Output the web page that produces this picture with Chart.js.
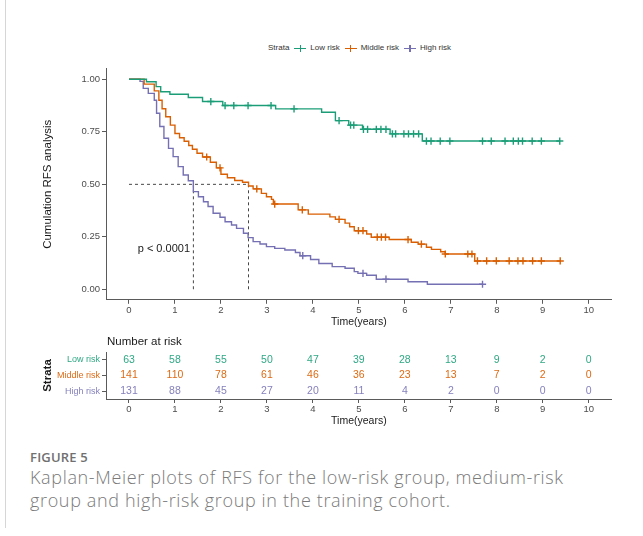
<!DOCTYPE html>
<html>
<head>
<meta charset="utf-8">
<script src="https://cdn.jsdelivr.net/npm/chart.js@4.4.0/dist/chart.umd.min.js"></script>
<style>
  body { margin:0; background:#fff; width:643px; height:536px; position:relative; overflow:hidden;
         font-family:"Liberation Sans", Arial, sans-serif; }
  #marco { position:absolute; left:5px; top:0; width:1px; height:528px; background:#d6d6d6; }
  #grafica_km { position:absolute; left:0; top:0; }
  #grafica_riesgo { position:absolute; left:0; top:330px; }
  #leyenda { position:absolute; left:268px; top:43px; font-size:8px; color:#333; white-space:nowrap; line-height:10px; }
  #leyenda span { vertical-align:middle; }
  .clave { display:inline-block; position:relative; width:12px; height:9px; margin:0 4px 0 5px; }
  .clave::before { content:''; position:absolute; left:0; right:0; top:4px; height:1.3px; background:currentColor; }
  .clave::after { content:''; position:absolute; left:5.5px; top:1px; width:1.3px; height:7px; background:currentColor; }
  #fig_num { position:absolute; left:30px; top:448px; font:600 13px "Open Sans", sans-serif; color:#707070; letter-spacing:0.2px; }
  #fig_texto { position:absolute; left:30px; top:466px; font:300 18px/23px "Open Sans", sans-serif; color:#7a7a7a;
               letter-spacing:0.65px; white-space:nowrap; }
</style>
</head>
<body>
<div id="marco"></div>
<div id="leyenda">
  <span>Strata</span><span class="clave" style="color:#1B9E77"></span><span>Low risk</span><span class="clave" style="color:#D95F02"></span><span>Middle risk</span><span class="clave" style="color:#7570B3"></span><span>High risk</span>
</div>
<canvas id="grafica_km" width="643" height="330"></canvas>
<canvas id="grafica_riesgo" width="643" height="100"></canvas>
<div id="fig_num">FIGURE 5</div>
<div id="fig_texto">Kaplan-Meier plots of RFS for the low-risk group, medium-risk<br>group and high-risk group in the training cohort.</div>

<script>
/*-----Datos-----*/

const grupos = ['Low risk', 'Middle risk', 'High risk'];
const colores = ['#1B9E77', '#D95F02', '#7570B3'];
const colores_tabla = ['#2fa883', '#dd6a14', '#8581bd'];

// tiempos (años) y supervivencia tras cada escalón
const bajo_t = [0, 0.38, 0.59, 0.69, 0.89, 1.29, 1.6, 2.04, 3.19, 4.19, 4.49, 4.78, 5.08, 5.68, 6.38, 9.37];
const bajo_s = [1, 0.988, 0.965, 0.941, 0.929, 0.913, 0.894, 0.875, 0.859, 0.843, 0.803, 0.782, 0.762, 0.740, 0.706, 0.706];
const bajo_cens = [1.78, 2.09, 2.28, 2.59, 3.09, 3.59, 4.57, 4.82, 4.89, 5.1, 5.19, 5.38, 5.48, 5.59, 5.73, 5.8,
                   5.98, 6.08, 6.19, 6.3, 6.47, 6.57, 6.77, 6.98, 7.69, 7.88, 8.18, 8.36, 8.47, 8.56, 8.77, 8.97, 9.37];

const medio_t = [0, 0.33, 0.55, 0.65, 0.72, 0.8, 0.9, 1.0, 1.1, 1.2, 1.3, 1.38, 1.48, 1.6, 1.77, 1.9, 2.0, 2.14, 2.3,
                 2.47, 2.6, 2.7, 2.88, 2.99, 3.1, 3.14, 3.68, 3.9, 4.37, 4.49, 4.7, 4.8, 4.9, 5.17, 5.27, 5.66,
                 6.14, 6.29, 6.47, 6.58, 6.78, 6.88, 7.52, 9.38];
const medio_s = [1, 0.977, 0.945, 0.9, 0.86, 0.822, 0.782, 0.742, 0.722, 0.705, 0.685, 0.667, 0.648, 0.63, 0.605,
                 0.578, 0.548, 0.531, 0.518, 0.51, 0.492, 0.478, 0.457, 0.441, 0.428, 0.406, 0.378, 0.358, 0.345,
                 0.333, 0.315, 0.298, 0.279, 0.263, 0.248, 0.237, 0.224, 0.215, 0.2, 0.19, 0.179, 0.168, 0.135, 0.135];
const medio_cens = [1.69, 1.98, 2.78, 3.17, 3.77, 4.57, 4.99, 5.09, 5.4, 5.49, 5.58, 6.07, 6.36, 6.88, 7.37, 7.46,
                    7.58, 7.78, 7.99, 8.27, 8.46, 8.57, 8.78, 8.97, 9.38];

const alto_t = [0, 0.24, 0.31, 0.42, 0.55, 0.6, 0.67, 0.76, 0.86, 0.96, 1.07, 1.18, 1.29, 1.4, 1.51, 1.62, 1.72,
                1.83, 1.98, 2.09, 2.23, 2.34, 2.49, 2.59, 2.7, 2.85, 2.99, 3.17, 3.39, 3.62, 3.72, 3.95, 4.13,
                4.42, 4.7, 4.9, 4.98, 5.17, 5.38, 6.07, 6.49, 7.69];
const alto_s = [1, 0.99, 0.957, 0.933, 0.9, 0.838, 0.775, 0.719, 0.671, 0.632, 0.584, 0.544, 0.517, 0.465, 0.441,
                0.417, 0.394, 0.362, 0.343, 0.322, 0.306, 0.29, 0.267, 0.246, 0.227, 0.216, 0.203, 0.195, 0.187,
                0.175, 0.16, 0.142, 0.123, 0.108, 0.1, 0.084, 0.076, 0.067, 0.048, 0.036, 0.024, 0.024];
const alto_cens = [3.78, 5.09, 5.59, 7.69];

// medianas (años)
const mediana_alto = 1.4;
const mediana_medio = 2.6;

// tabla de número en riesgo
const anios = [0, 1, 2, 3, 4, 5, 6, 7, 8, 9, 10];
const riesgo_bajo = [63, 58, 55, 50, 47, 39, 28, 13, 9, 2, 0];
const riesgo_medio = [141, 110, 78, 61, 46, 36, 23, 13, 7, 2, 0];
const riesgo_alto = [131, 88, 45, 27, 20, 11, 4, 2, 0, 0, 0];
const ticks_y = [0, 0.25, 0.5, 0.75, 1];

/*-----Funciones-----*/

function puntos(t, s) {
  return t.map((v, i) => ({x: v, y: s[i]}));
}

function supervivencia(t, s, x) {
  let v = s[0];
  for (let i = 0; i < t.length; i++) {
    if (t[i] <= x) v = s[i];
  }
  return v;
}

function cruces(cens, t, s) {
  return cens.map(c => ({x: c, y: supervivencia(t, s, c)}));
}

Chart.defaults.font.family = '"Liberation Sans", Arial, sans-serif';
Chart.defaults.color = '#4d4d4d';

const ejeColor = '#5a5a5a';
const rayas = {borderColor: '#333', borderWidth: 0.9, borderDash: [3, 3], pointRadius: 0, fill: false};

/*-----Gráfica Kaplan-Meier-----*/

const curvas = [[bajo_t, bajo_s, bajo_cens], [medio_t, medio_s, medio_cens], [alto_t, alto_s, alto_cens]];
const datasets_km = [];

curvas.forEach((c, i) => {
  datasets_km.push({
    label: grupos[i],
    data: puntos(c[0], c[1]),
    stepped: 'before',
    borderColor: colores[i],
    borderWidth: 1.4,
    pointRadius: 0,
    fill: false
  });
  datasets_km.push({
    label: grupos[i] + ' censurados',
    data: cruces(c[2], c[0], c[1]),
    showLine: false,
    pointStyle: 'cross',
    pointRadius: 3.6,
    borderWidth: 1.4,
    borderColor: colores[i]
  });
});

datasets_km.push(Object.assign({data: [{x: 0, y: 0.5}, {x: mediana_medio, y: 0.5}]}, rayas));
datasets_km.push(Object.assign({data: [{x: mediana_alto, y: 0.5}, {x: mediana_alto, y: 0}]}, rayas));
datasets_km.push(Object.assign({data: [{x: mediana_medio, y: 0.5}, {x: mediana_medio, y: 0}]}, rayas));

const textoP = {
  id: 'textoP',
  afterDatasetsDraw(chart) {
    const {ctx, scales} = chart;
    ctx.save();
    ctx.fillStyle = '#1a1a1a';
    ctx.font = '11px "Liberation Sans", Arial, sans-serif';
    ctx.textBaseline = 'middle';
    ctx.fillText('p < 0.0001', scales.x.getPixelForValue(0.19), scales.y.getPixelForValue(0.19));
    ctx.restore();
  }
};

new Chart(document.getElementById('grafica_km'), {
  type: 'line',
  data: { datasets: datasets_km },
  options: {
    responsive: false,
    animation: false,
    devicePixelRatio: 1,
    layout: { padding: { top: 68.8, right: 31.3, left: 0, bottom: 0 } },
    plugins: { legend: { display: false }, tooltip: { enabled: false } },
    scales: {
      x: {
        type: 'linear', min: -0.5, max: 10.5,
        afterBuildTicks: s => { s.ticks = anios.map(v => ({value: v})); },
        afterFit: s => { s.height = 30.2; },
        grid: { drawOnChartArea: false, tickLength: 4, color: ejeColor },
        border: { color: ejeColor },
        ticks: { font: { size: 9.5 }, padding: 1, color: '#4d4d4d' },
        title: { display: true, text: 'Time(years)', font: { size: 10.5 }, color: '#1a1a1a', padding: { top: 0, bottom: 2 } }
      },
      y: {
        type: 'linear', min: -0.05, max: 1.05,
        afterBuildTicks: s => { s.ticks = ticks_y.map(v => ({value: v})); },
        afterFit: s => { s.width = 106; },
        grid: { drawOnChartArea: false, tickLength: 4, color: ejeColor },
        border: { color: ejeColor },
        ticks: { font: { size: 9.5 }, padding: 2, color: '#4d4d4d', callback: v => v.toFixed(2) },
        title: { display: true, text: 'Cumulation RFS analysis', font: { size: 11.5 }, color: '#1a1a1a', padding: { top: 41, bottom: 0 } }
      }
    }
  },
  plugins: [textoP]
});

/*-----Tabla de riesgo-----*/

const filas = [riesgo_bajo, riesgo_medio, riesgo_alto];

const numeros = {
  id: 'numeros',
  afterDatasetsDraw(chart) {
    const {ctx, scales, chartArea} = chart;
    ctx.save();
    ctx.font = '10.5px "Liberation Sans", Arial, sans-serif';
    ctx.textAlign = 'center';
    ctx.textBaseline = 'middle';
    filas.forEach((fila, r) => {
      ctx.fillStyle = colores_tabla[r];
      fila.forEach((n, i) => {
        ctx.fillText(String(n), scales.x.getPixelForValue(anios[i]), scales.y.getPixelForValue(r));
      });
    });
    ctx.fillStyle = '#1a1a1a';
    ctx.font = '11.5px "Liberation Sans", Arial, sans-serif';
    ctx.textAlign = 'left';
    ctx.fillText('Number at risk', chartArea.left + 1, chartArea.top - 10);
    ctx.restore();
  }
};

new Chart(document.getElementById('grafica_riesgo'), {
  type: 'scatter',
  data: {
    datasets: [{
      data: grupos.map(g => ({x: 0, y: g})),
      pointRadius: 0
    }]
  },
  options: {
    responsive: false,
    animation: false,
    devicePixelRatio: 1,
    layout: { padding: { top: 22, right: 31.3, left: 0, bottom: 0 } },
    plugins: { legend: { display: false }, tooltip: { enabled: false } },
    scales: {
      x: {
        type: 'linear', min: -0.5, max: 10.5,
        afterBuildTicks: s => { s.ticks = anios.map(v => ({value: v})); },
        afterFit: s => { s.height = 31; },
        grid: { drawOnChartArea: false, tickLength: 4, color: ejeColor },
        border: { color: ejeColor },
        ticks: { font: { size: 9.5 }, padding: 1, color: '#4d4d4d' },
        title: { display: true, text: 'Time(years)', font: { size: 10.5 }, color: '#1a1a1a', padding: { top: 0, bottom: 3 } }
      },
      y: {
        type: 'category', labels: grupos, offset: true,
        afterFit: s => { s.width = 106; },
        grid: { drawOnChartArea: false, tickLength: 4, color: ejeColor, offset: false },
        border: { color: ejeColor },
        ticks: { font: { size: 9 }, padding: 2, color: c => colores_tabla[c.index] },
        title: { display: true, text: 'Strata', font: { size: 11.5, weight: 'bold' }, color: '#1a1a1a', padding: { top: 41, bottom: 0 } }
      }
    }
  },
  plugins: [numeros]
});
</script>
</body>
</html>
